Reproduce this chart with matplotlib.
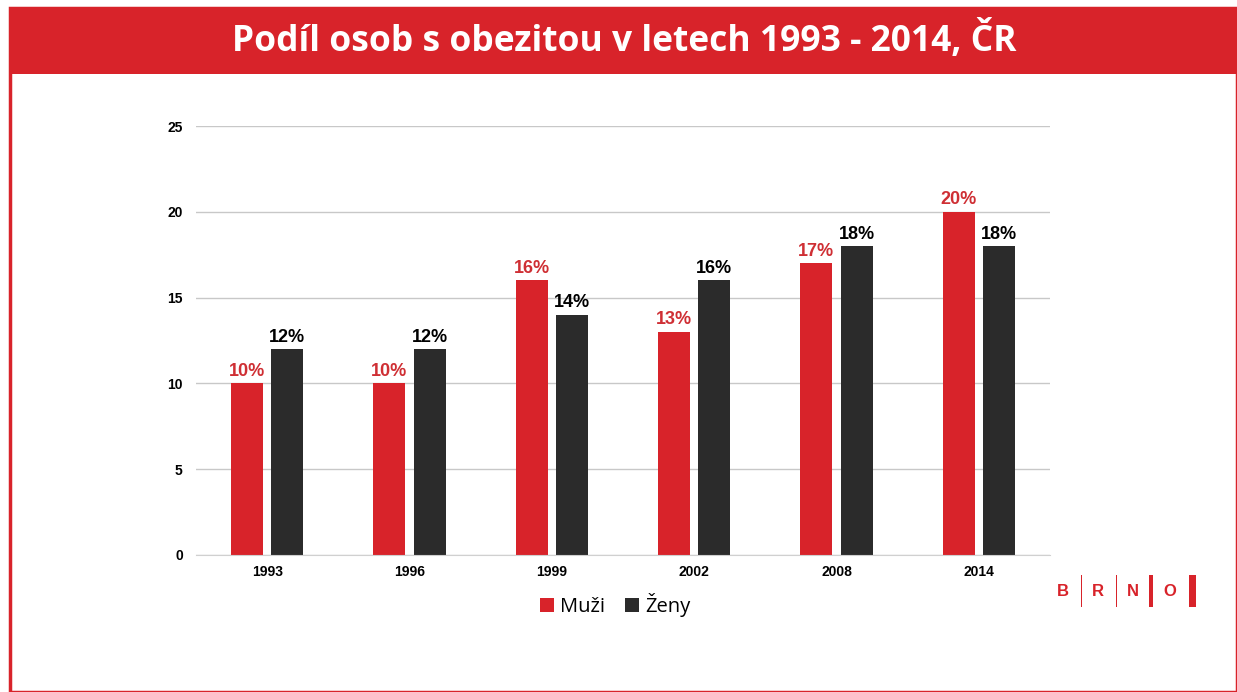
import numpy as np
import matplotlib
matplotlib.use('Agg')
import matplotlib.pyplot as plt
from matplotlib.patches import Rectangle

# data
years = ['1993', '1996', '1999', '2002', '2008', '2014']
muzi = [10, 10, 16, 13, 17, 20]
zeny = [12, 12, 14, 16, 18, 18]

red = '#d8232a'
dark = '#2b2b2b'

fig = plt.figure(figsize=(12.37, 6.92), dpi=100)
W, H = 1237, 692

# red frame + header
fig.patches.append(Rectangle((10 / W, 0), 1227 / W, 1 - 8 / H, transform=fig.transFigure,
                             facecolor='white', edgecolor=red, linewidth=2.5, zorder=-2))
fig.patches.append(Rectangle((10 / W, 1 - 74 / H), 1227 / W, 66 / H, transform=fig.transFigure,
                             facecolor=red, edgecolor='none', zorder=-1))
fig.text(624 / W, 1 - 41 / H, 'Podíl osob s obezitou v letech 1993 - 2014, ČR',
         ha='center', va='center', color='white', fontsize=25.5, fontweight='bold',
         family='Open Sans')

ax = fig.add_axes([196 / W, 1 - 555 / H, 854 / W, 429 / H])
ax.set_zorder(3)
ax.patch.set_alpha(0)
x = np.arange(len(years))
w = 0.225
off = 0.141
b1 = ax.bar(x - off, muzi, w, color=red, label='Muži', zorder=2)
b2 = ax.bar(x + off, zeny, w, color=dark, label='Ženy', zorder=2)

for xi, v in zip(x, muzi):
    ax.text(xi - off, v + 0.2, f'{v}%', ha='center', va='bottom', color='#cf2f34',
            fontsize=13, fontweight='bold', family='Liberation Sans')
for xi, v in zip(x, zeny):
    ax.text(xi + off, v + 0.2, f'{v}%', ha='center', va='bottom', color='black',
            fontsize=13, fontweight='bold', family='Liberation Sans')

ax.set_xlim(-0.5, len(years) - 0.5)
ax.set_ylim(0, 25)
ax.set_yticks([0, 5, 10, 15, 20, 25])
ax.set_xticks(x)
ax.set_xticklabels(years)
ax.yaxis.grid(True, color='#c8c8c8', linewidth=1, zorder=0)
ax.set_axisbelow(True)
for s in ['top', 'right', 'left']:
    ax.spines[s].set_visible(False)
ax.spines['bottom'].set_color('#d0d0d0')
ax.tick_params(axis='both', length=0, labelsize=10)
ax.tick_params(axis='y', pad=9.5)
ax.tick_params(axis='x', pad=7)
for lab in ax.get_xticklabels() + ax.get_yticklabels():
    lab.set_fontweight('bold')
    lab.set_family('Liberation Sans')

leg = fig.legend(handles=[b1, b2], labels=['Muži', 'Ženy'], loc='center',
                 bbox_to_anchor=(615 / W, 1 - 605 / H), ncol=2, frameon=False,
                 prop={'family': 'Open Sans', 'size': 14.5}, handlelength=0.7,
                 handleheight=0.7, handletextpad=0.3, columnspacing=1.0)

# BRNO logo
letters = ['B', 'R', 'N', 'O']
lx = [1063, 1098, 1133, 1170]
for t, xx in zip(letters, lx):
    fig.text(xx / W, 1 - 591 / H, t, ha='center', va='center', color=red,
             fontsize=12, fontweight='bold', family='Liberation Sans')
bars_x = [1080.5, 1115.5, 1149, 1189]
bars_w = [1.5, 1.5, 4, 7]
for xx, bw in zip(bars_x, bars_w):
    fig.patches.append(Rectangle((xx / W, 1 - 607 / H), bw / W, 32 / H,
                                 transform=fig.transFigure, facecolor=red, edgecolor='none'))

plt.savefig('out.png', dpi=100)
